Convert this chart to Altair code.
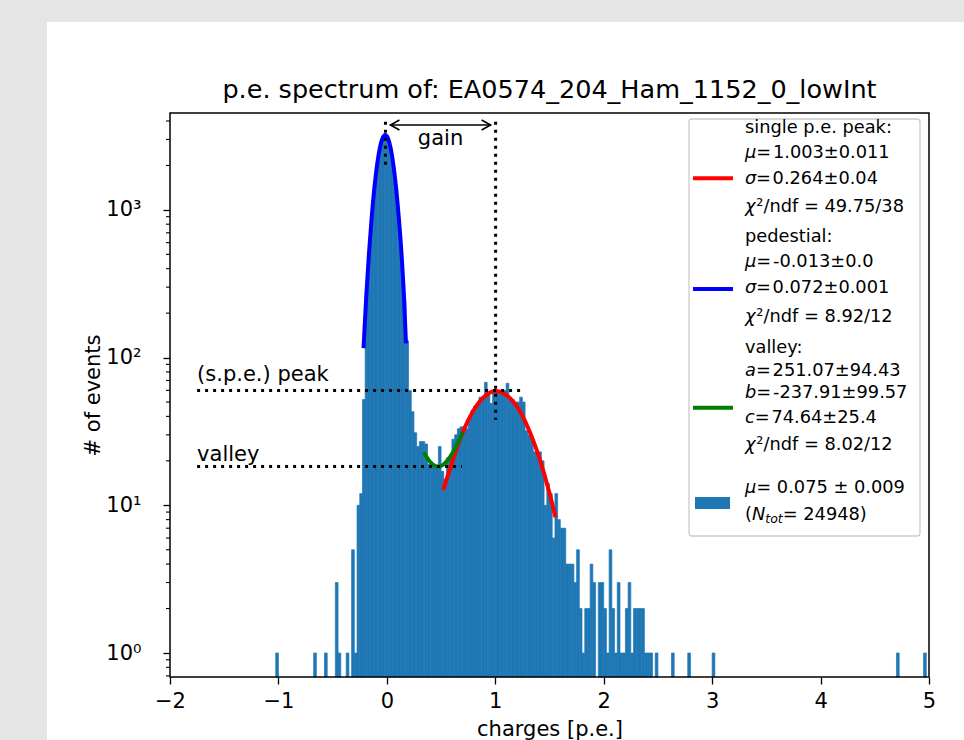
import altair as alt
import pandas as pd

# ---------------- data ----------------
bin_width = 0.025
bin_left = [
    -1.025, -0.675, -0.575, -0.475, -0.45, -0.375, -0.325, -0.3, -0.275, -0.25, -0.225,
    -0.2, -0.175, -0.15, -0.125, -0.1, -0.075, -0.05, -0.025, 0.0, 0.025, 0.05, 0.075,
    0.1, 0.125, 0.15, 0.175,
    0.2, 0.225, 0.25, 0.275, 0.3, 0.325, 0.35, 0.375, 0.4, 0.425, 0.45, 0.475, 0.5, 0.525,
    0.55, 0.575, 0.6, 0.625, 0.65, 0.675, 0.7, 0.725, 0.75, 0.775, 0.8, 0.825, 0.85, 0.875,
    0.9, 0.925, 0.95, 0.975, 1.0, 1.025, 1.05, 1.075, 1.1, 1.125, 1.15, 1.175, 1.2, 1.225,
    1.25, 1.275, 1.3, 1.325, 1.35, 1.375, 1.4, 1.425, 1.45, 1.475, 1.5, 1.525, 1.55, 1.575,
    1.6, 1.625, 1.65, 1.675, 1.7, 1.725, 1.75, 1.775, 1.8, 1.825, 1.85, 1.875, 1.9, 1.95,
    1.975, 2.0, 2.025, 2.05, 2.075, 2.1, 2.125, 2.15, 2.175, 2.2, 2.225, 2.25, 2.275, 2.3,
    2.325, 2.35, 2.375, 2.4, 2.425, 2.475, 2.625, 2.775, 3.0, 4.7, 4.95,
]
counts = [
    1, 1, 1, 3, 1, 1, 5, 1, 10, 12, 52,
    250, 520, 900, 1440, 2050, 2620, 3050, 3200, 3010, 2560, 1950, 1360,
    850, 470, 245, 130,
    60, 43, 31, 25, 27, 27, 26, 19, 19, 18, 18, 25, 17, 15,
    21, 21, 28, 30, 33, 34, 34, 33, 38, 44, 47, 49, 54, 54,
    68, 57, 49, 58, 58, 57, 57, 60, 67, 52, 52, 50, 50, 54,
    50, 32, 30, 29, 23, 23, 23, 20, 10, 14, 12, 6, 12, 8,
    7, 7, 4, 4, 4, 3, 5, 2, 1, 2, 2, 4, 3, 3,
    3, 2, 1, 5, 2, 1, 3, 1, 1, 2, 3, 1, 2, 2,
    2, 2, 1, 1, 1, 1, 1, 1, 1, 1, 1,
]

ped_fit_x = [-0.215, -0.19, -0.165, -0.14, -0.115, -0.09, -0.065, -0.04, -0.015,
             0.01, 0.035, 0.06, 0.085, 0.11, 0.135, 0.16, 0.176]
ped_fit_y = [116, 260, 506, 890, 1413, 2025, 2617, 3053, 3214,
             3053, 2617, 2025, 1413, 890, 506, 240, 125]

spe_fit_x = [0.52, 0.6, 0.7, 0.8, 0.9, 1.0, 1.1, 1.2, 1.3, 1.4, 1.5, 1.555]
spe_fit_y = [12.7, 19.4, 31.3, 44.0, 54.5, 59.5, 56.0, 46.5, 33.8, 21.6, 12.1, 8.3]

valley_fit_x = [0.34, 0.4, 0.45, 0.475, 0.5, 0.55, 0.6, 0.65, 0.7]
valley_fit_y = [22.9, 19.65, 18.42, 18.28, 18.45, 19.74, 22.28, 26.08, 31.12]

ped_mu = -0.013
spe_mu = 1.003
spe_peak_height = 60.0
valley_height = 18.3
label_x = -1.75
peak_line_end = 1.232
valley_line_end = 0.693
marker_top = 3950
ped_marker_bottom = 1960
spe_marker_bottom = 38
arrow_y = 3760

title_text = "p.e. spectrum of: EA0574_204_Ham_1152_0_lowInt"
x_title = "charges [p.e.]"
y_title = "# of events"
x_ticks = [-2, -1, 0, 1, 2, 3, 4, 5]
y_major = [1, 10, 100, 1000]
y_minor = [0.7, 0.8, 0.9, 2, 3, 4, 5, 6, 7, 8, 9, 20, 30, 40, 50, 60, 70, 80, 90,
           200, 300, 400, 500, 600, 700, 800, 900, 2000, 3000, 4000]

HS = "\u200a"  # hair space (mathtext spacing around the relation sign)
legend_lines = [
    [("single p.e. peak:", "n")],
    [("\u03bc", "i"), (HS + "=" + HS + "1.003\u00b10.011", "n")],
    [("\u03c3", "i"), (HS + "=" + HS + "0.264\u00b10.04", "n")],
    [("\u03c7", "i"), ("\u00b2/ndf = 49.75/38", "n")],
    [("pedestial:", "n")],
    [("\u03bc", "i"), (HS + "=" + HS + "-0.013\u00b10.0", "n")],
    [("\u03c3", "i"), (HS + "=" + HS + "0.072\u00b10.001", "n")],
    [("\u03c7", "i"), ("\u00b2/ndf = 8.92/12", "n")],
    [("valley:", "n")],
    [("a", "i"), (HS + "=" + HS + "251.07\u00b194.43", "n")],
    [("b", "i"), (HS + "=" + HS + "-237.91\u00b199.57", "n")],
    [("c", "i"), (HS + "=" + HS + "74.64\u00b125.4", "n")],
    [("\u03c7", "i"), ("\u00b2/ndf = 8.02/12", "n")],
    [("\u03bc", "i"), (" = 0.075 \u00b1 0.009", "n")],
    [("(", "n"), ("N", "i"), ("tot", "s"), (" = 24948)", "n")],
]
legend_colors = ["#ff0000", "#0000ff", "#008000"]

# ---------------- layout / style ----------------
FONT = "DejaVu Sans"
BLUE = "#1f77b4"
GREY = "#e5e5e5"
W, H = 759, 564
PAD_L, PAD_T = 170, 113
PAD_R = 964 - PAD_L - W
PAD_B = 740 - PAD_T - H
FIG_L, FIG_T = 47, 22
X_DOMAIN = [-2, 5]
Y_DOMAIN = [0.688, 4530]
FS = 21
LFS = 17.8
SUB_FS = 12.5
DOT = [3.0, 5.0]
TITLE_BASELINE = 98
TITLE_FS = 25.5

LEG_L, LEG_R, LEG_T, LEG_B = 689, 920, 119, 536
LEG_TEXT_X = 745
LEG_LINE_Y = [128.3, 153.3, 179, 206.7, 237.3, 261.7, 288.3, 316.7, 348.3, 370.7,
              393.3, 418.3, 445, 488.3, 515]
LEG_HANDLE_Y = [178.3, 289, 407.7]
LEG_HANDLE_X = (693, 733)
LEG_PATCH = (695, 730, 497, 509)

ADV = {"\u03bc": 1300, "\u03c3": 1255, "\u03c7": 1300, "a": 1255, "b": 1300, "c": 1126,
       "N": 1532, "(": 799, "t": 803, "o": 1253}


def text_w(s, size):
    return sum(ADV.get(ch, 1250) for ch in s) / 2048.0 * size


xs = alt.Scale(domain=X_DOMAIN, nice=False, zero=False)
ys = alt.Scale(type="log", domain=Y_DOMAIN, nice=False)

x_axis = alt.Axis(
    values=x_ticks, title=x_title, grid=False, domain=False, zindex=2,
    labelExpr="datum.value < 0 ? '\u2212' + abs(datum.value) : '' + datum.value",
    labelFont=FONT, labelFontSize=FS, labelColor="black", labelPadding=6,
    labelFlush=False, labelOverlap=False,
    tickColor="black", tickSize=7, tickWidth=1.3,
    titleFont=FONT, titleFontSize=FS, titleFontWeight="normal", titleColor="black",
    titlePadding=7,
)
y_axis = alt.Axis(
    values=y_major, title=y_title, grid=False, domain=False, zindex=2,
    labelExpr="datum.value == 1 ? '10\u2070' : datum.value == 10 ? '10\u00b9' : "
              "datum.value == 100 ? '10\u00b2' : '10\u00b3'",
    labelFont=FONT, labelFontSize=FS, labelColor="black", labelPadding=22,
    labelOverlap=False, labelFlush=False,
    tickColor="black", tickWidth=1.3, tickSize=7,
    titleFont=FONT, titleFontSize=FS, titleFontWeight="normal", titleColor="black",
    titlePadding=2,
)


def X(field):
    return alt.X(field, scale=xs, axis=x_axis)


def Y(field):
    return alt.Y(field, scale=ys, axis=y_axis)


one = pd.DataFrame({"k": [0]})

# grey page strips around the white figure
strip_left = alt.Chart(one).mark_rect(color=GREY).encode(
    x=alt.value(-PAD_L), x2=alt.value(FIG_L - PAD_L),
    y=alt.value(-PAD_T), y2=alt.value(740 - PAD_T),
)
strip_top = alt.Chart(one).mark_rect(color=GREY).encode(
    x=alt.value(FIG_L - PAD_L), x2=alt.value(964 - PAD_L),
    y=alt.value(-PAD_T), y2=alt.value(FIG_T - PAD_T),
)

title_df = pd.DataFrame({"t": [title_text]})
title_mark = alt.Chart(title_df).mark_text(
    font=FONT, fontSize=TITLE_FS, color="black", align="center", baseline="alphabetic"
).encode(x=alt.value(W / 2), y=alt.value(TITLE_BASELINE - PAD_T), text="t:N")

hist_df = pd.DataFrame({
    "x": bin_left,
    "x2": [b + bin_width for b in bin_left],
    "count": counts,
})
hist = alt.Chart(hist_df).mark_rect(color=BLUE, stroke=BLUE, strokeWidth=0.7).encode(
    x=X("x:Q"), x2="x2:Q", y=Y("count:Q"), y2=alt.value(H),
)

minor_df = pd.DataFrame({"v": y_minor})
minor_ticks = alt.Chart(minor_df).mark_rule(color="black", strokeWidth=1.1).encode(
    x=alt.value(-4), x2=alt.value(0), y=Y("v:Q"),
)


def curve(cx, cy, color):
    df = pd.DataFrame({"x": cx, "y": cy})
    return alt.Chart(df).mark_line(color=color, strokeWidth=4, interpolate="monotone").encode(
        x=X("x:Q"), y=Y("y:Q"),
    )


ped_line = curve(ped_fit_x, ped_fit_y, "#0000ff")
spe_line = curve(spe_fit_x, spe_fit_y, "#ff0000")
val_line = curve(valley_fit_x, valley_fit_y, "#008000")

rules_df = pd.DataFrame({
    "x": [ped_mu, spe_mu, label_x, label_x],
    "x2": [ped_mu, spe_mu, peak_line_end, valley_line_end],
    "y": [marker_top, marker_top, spe_peak_height, valley_height],
    "y2": [ped_marker_bottom, spe_marker_bottom, spe_peak_height, valley_height],
})
dotted = alt.Chart(rules_df).mark_rule(
    color="black", strokeWidth=3, strokeDash=DOT, strokeCap="butt"
).encode(x=X("x:Q"), x2="x2:Q", y=Y("y:Q"), y2="y2:Q")

arrow_df = pd.DataFrame({"x": [ped_mu], "x2": [spe_mu], "y": [arrow_y]})
shaft = alt.Chart(arrow_df).mark_rule(color="black", strokeWidth=1.6, xOffset=5, x2Offset=-5).encode(
    x=X("x:Q"), x2="x2:Q", y=Y("y:Q"),
)
head_l = alt.Chart(arrow_df).mark_point(
    shape="M1.8,-1L0,0L1.8,1", filled=False, stroke="black", strokeWidth=1.6,
    size=100, opacity=1, xOffset=5,
).encode(x=X("x:Q"), y=Y("y:Q"))
head_r = alt.Chart(arrow_df).mark_point(
    shape="M-1.8,-1L0,0L-1.8,1", filled=False, stroke="black", strokeWidth=1.6,
    size=100, opacity=1, xOffset=-5,
).encode(x=X("x2:Q"), y=Y("y:Q"))

ann_df = pd.DataFrame({
    "x": [(ped_mu + spe_mu) / 2, label_x, label_x],
    "y": [arrow_y, spe_peak_height, valley_height],
    "t": ["gain", "(s.p.e.) peak", "valley"],
})
gain_txt = alt.Chart(ann_df.iloc[[0]]).mark_text(
    font=FONT, fontSize=FS, color="black", align="center", baseline="middle", dy=14
).encode(x=X("x:Q"), y=Y("y:Q"), text="t:N")
peak_txt = alt.Chart(ann_df.iloc[[1]]).mark_text(
    font=FONT, fontSize=FS, color="black", align="left", baseline="middle", dy=-15
).encode(x=X("x:Q"), y=Y("y:Q"), text="t:N")
valley_txt = alt.Chart(ann_df.iloc[[2]]).mark_text(
    font=FONT, fontSize=FS, color="black", align="left", baseline="middle", dy=-12
).encode(x=X("x:Q"), y=Y("y:Q"), text="t:N")

frame = alt.Chart(one).mark_rect(filled=False, stroke="black", strokeWidth=1.5).encode(
    x=alt.value(0), x2=alt.value(W), y=alt.value(0), y2=alt.value(H),
)

# ---------------- legend ----------------
leg_box = alt.Chart(one).mark_rect(
    fill="white", fillOpacity=0.8, stroke="#cccccc", strokeWidth=1.3, cornerRadius=3
).encode(
    x=alt.value(LEG_L - PAD_L), x2=alt.value(LEG_R - PAD_L),
    y=alt.value(LEG_T - PAD_T), y2=alt.value(LEG_B - PAD_T),
)

leg_handles = []
for col, hy in zip(legend_colors, LEG_HANDLE_Y):
    leg_handles.append(
        alt.Chart(one).mark_rule(color=col, strokeWidth=4).encode(
            x=alt.value(LEG_HANDLE_X[0] - PAD_L), x2=alt.value(LEG_HANDLE_X[1] - PAD_L),
            y=alt.value(hy - PAD_T),
        )
    )
leg_patch = alt.Chart(one).mark_rect(color=BLUE).encode(
    x=alt.value(LEG_PATCH[0] - PAD_L), x2=alt.value(LEG_PATCH[1] - PAD_L),
    y=alt.value(LEG_PATCH[2] - PAD_T), y2=alt.value(LEG_PATCH[3] - PAD_T),
)

leg_texts = []
for segs, ly in zip(legend_lines, LEG_LINE_Y):
    px = LEG_TEXT_X - PAD_L
    for txt, style in segs:
        size = SUB_FS if style == "s" else LFS
        py = ly - PAD_T + (4 if style == "s" else 0)
        leg_texts.append(
            alt.Chart(pd.DataFrame({"t": [txt]})).mark_text(
                font=FONT, fontSize=size, color="black", align="left", baseline="middle",
                fontStyle="normal" if style == "n" else "italic",
            ).encode(x=alt.value(px), y=alt.value(py), text="t:N")
        )
        px += text_w(txt, size)

chart = alt.layer(
    hist, strip_left, strip_top, title_mark, minor_ticks, ped_line, spe_line, val_line,
    dotted, shaft, head_l, head_r, gain_txt, peak_txt, valley_txt, frame, leg_box,
    *leg_handles, leg_patch, *leg_texts,
).properties(
    width=W, height=H,
    background="white",
    padding={"left": PAD_L, "top": PAD_T, "right": PAD_R, "bottom": PAD_B},
    autosize=alt.AutoSizeParams(type="none"),
).configure_view(stroke=None)

chart.save("out.html", embed_options={"renderer": "svg", "actions": False})
